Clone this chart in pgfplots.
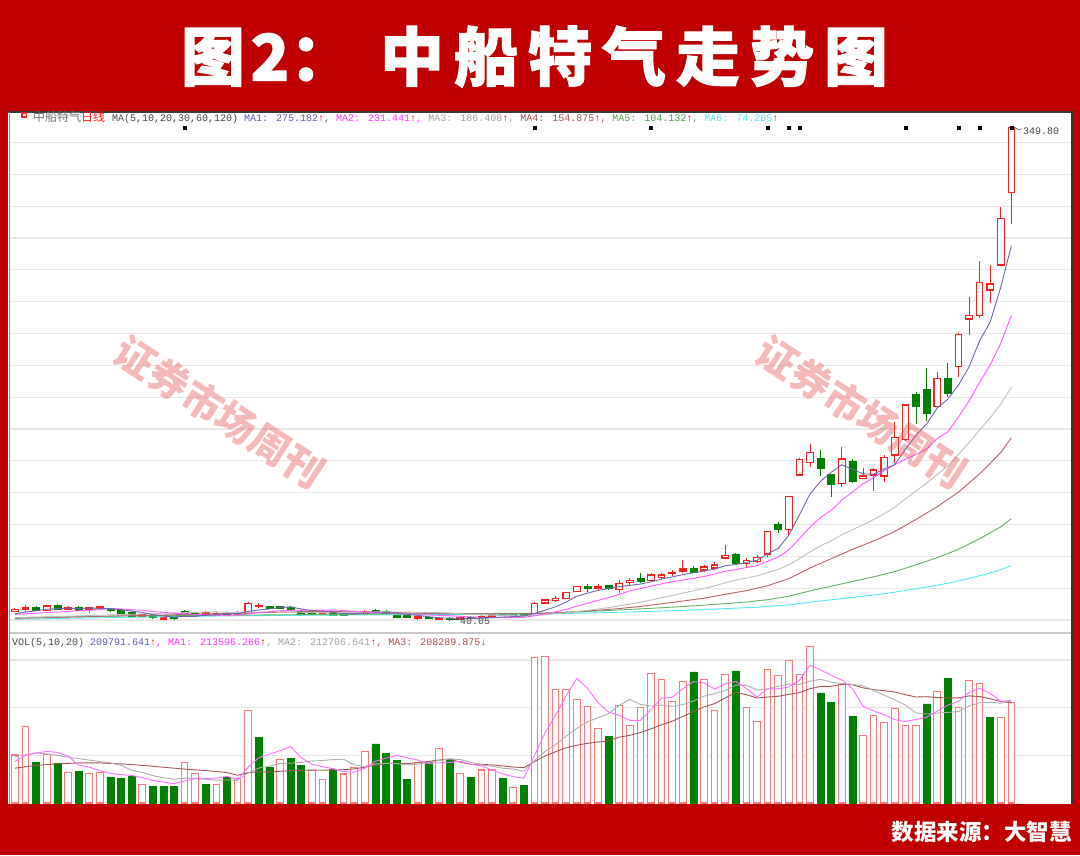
\documentclass[border=0pt]{standalone}
\usepackage{pgfplots}
\pgfplotsset{compat=1.18}
\usepackage{pgfplotstable}
\usepackage{fontspec}
\newfontfamily\cjk{Noto Sans CJK SC}
\newfontfamily\titlefont[FakeBold=1.6]{Noto Sans CJK SC}
\newfontfamily\mono{Liberation Mono}
\definecolor{bgred}{RGB}{192,0,0}
\definecolor{cred}{RGB}{255,30,30}
\definecolor{cgreen}{RGB}{0,128,0}
\definecolor{vred}{RGB}{255,120,120}
\definecolor{maA}{RGB}{105,105,175}
\definecolor{maB}{RGB}{255,90,255}
\definecolor{maC}{RGB}{190,190,190}
\definecolor{maD}{RGB}{180,100,100}
\definecolor{maE}{RGB}{100,175,100}
\definecolor{maF}{RGB}{80,235,245}
\definecolor{gridc}{RGB}{232,232,232}
\definecolor{hdark}{RGB}{70,70,70}
\definecolor{hgray}{RGB}{110,110,110}
\definecolor{tA}{RGB}{90,90,170}
\definecolor{tB}{RGB}{255,50,255}
\definecolor{tC}{RGB}{160,160,160}
\definecolor{tD}{RGB}{170,80,80}
\definecolor{tE}{RGB}{80,160,80}
\definecolor{tF}{RGB}{80,225,240}
\definecolor{arr}{RGB}{255,0,0}
\definecolor{vmaB}{RGB}{255,110,255}
\definecolor{vmaC}{RGB}{175,175,175}
\definecolor{vmaD}{RGB}{165,85,85}
\definecolor{wm}{RGB}{228,70,70}

\pgfplotstableread{
i o h l c
0 45.21 47.23 44.71 46.47
1 46.91 49.42 45.21 47.73
3 45.84 49.42 45.34 48.80
5 46.91 48.48 46.28 47.73
7 46.91 48.17 44.59 47.73
8 47.10 48.80 46.60 48.17
12 42.32 44.08 41.88 43.14
14 40.63 41.88 40.13 41.45
18 43.77 45.34 43.14 44.71
19 43.14 44.71 42.51 44.08
21 43.77 45.34 43.14 44.71
22 44.21 51.00 43.77 50.49
23 48.36 50.37 47.54 49.11
29 44.40 45.97 43.77 45.34
32 43.77 45.34 43.14 44.71
33 44.40 45.97 43.77 45.34
38 41.07 43.14 40.31 41.88
40 40.31 41.88 40.13 41.07
42 40.63 41.88 40.31 41.26
44 41.57 42.83 41.26 42.20
45 42.51 43.77 42.20 43.30
49 44.21 51.00 43.46 50.49
50 50.68 53.19 50.05 52.57
51 52.13 54.77 51.62 53.63
52 53.63 57.59 53.19 57.15
53 57.78 61.36 57.28 60.92
55 60.11 62.62 58.85 61.05
57 59.29 65.13 57.15 63.06
58 63.56 66.39 62.30 64.82
60 64.82 69.22 64.19 68.27
61 66.70 69.53 66.07 68.27
62 69.22 71.42 67.65 69.84
63 70.79 77.70 69.84 72.04
65 71.42 74.56 70.16 73.30
66 72.67 76.44 71.42 74.56
67 78.95 87.12 78.33 80.53
69 75.62 78.77 73.49 77.26
70 76.63 80.84 75.62 79.39
71 81.47 95.92 79.77 95.48
73 96.99 117.91 93.41 117.47
74 131.10 141.47 130.47 140.97
75 139.08 150.58 135.94 145.11
78 125.89 148.88 123.75 141.16
80 128.78 135.31 128.28 130.47
81 131.10 135.31 121.24 134.25
82 130.47 143.67 126.89 141.97
83 143.67 164.59 138.45 154.79
84 153.53 175.71 152.47 175.08
87 174.02 196.01 173.20 191.86
89 199.15 220.01 192.86 219.50
90 229.12 243.13 219.06 231.19
91 231.19 265.75 229.56 252.17
92 247.34 263.05 239.36 251.11
93 263.05 299.30 262.42 292.39
94 308.47 349.80 288.81 349.20
}\redc

\pgfplotstableread{
i o h l c
2 47.73 48.48 45.65 46.09
4 49.42 50.05 46.28 46.91
6 47.73 48.48 45.65 46.28
9 47.35 47.85 45.34 45.84
10 46.09 46.60 43.77 44.40
11 44.84 45.34 41.57 42.07
13 42.70 43.14 40.94 41.45
15 41.88 42.20 40.31 41.07
16 45.34 45.97 43.77 44.40
17 44.08 44.71 42.51 43.14
20 44.08 44.71 42.51 43.14
24 48.48 48.80 46.91 47.23
25 48.48 48.80 46.91 47.23
26 48.17 48.48 46.28 46.91
27 45.65 46.28 43.46 44.08
28 45.34 45.97 43.46 44.08
30 44.08 44.71 42.51 43.14
31 44.08 44.71 42.20 42.83
34 45.97 46.60 44.40 45.03
35 45.34 45.97 43.77 44.40
36 42.83 43.46 40.94 41.57
37 42.83 43.46 40.94 41.57
39 41.88 42.51 40.63 40.94
41 40.94 41.57 40.05 40.31
43 41.88 42.20 40.63 40.94
46 43.46 43.77 42.51 42.83
47 43.30 43.62 42.51 42.83
48 43.30 43.62 42.51 42.83
54 61.05 62.93 57.78 60.11
56 61.80 62.30 59.16 59.67
59 66.07 69.53 63.25 64.19
64 72.36 73.93 69.53 70.16
68 81.47 81.78 75.18 75.62
72 100.32 101.76 94.47 96.99
76 141.35 146.81 130.47 135.50
77 131.29 132.04 117.47 125.01
79 139.90 140.97 126.39 126.89
85 181.99 183.25 163.15 174.46
86 184.95 198.14 165.22 169.87
88 191.86 201.66 180.11 182.44
}\greenc

\pgfplotstableread{
i v
0 10.06
1 16.1
3 10.1
5 6.36
7 6.2
8 6.36
12 3.91
16 8.52
17 6.22
19 3.91
21 5.17
22 19.35
25 9.15
28 6.78
29 4.96
31 6.08
32 7.41
33 10.76
38 8.45
40 11.46
42 6.22
44 6.92
45 6.92
47 3.28
49 30.5
50 30.8
51 23.8
52 23.8
53 21.7
54 20.2
55 15.7
57 20.5
58 16.3
59 20.1
60 27.2
61 25.9
62 21.2
63 25.4
65 25.9
66 19.3
67 27.0
69 20.1
70 17.0
71 28.0
72 26.8
73 29.8
74 27.0
75 32.8
78 24.9
80 14.1
81 18.4
82 16.9
83 19.8
84 16.2
85 16.2
87 23.3
89 20.1
90 25.6
91 25.1
93 17.9
94 20.98
}\vredt

\pgfplotstableread{
i v
2 8.45
4 8.3
6 6.57
9 5.5
10 5.17
11 5.66
13 3.56
14 3.56
15 3.56
18 3.91
20 5.38
23 13.7
24 7.48
26 9.36
27 7.83
30 7.13
34 12.37
35 10.4
36 8.87
37 4.96
39 8.45
41 9.15
43 5.31
46 5.17
48 3.7
56 13.9
64 27.5
68 27.7
76 23.1
77 21.1
79 18.1
86 20.8
88 26.1
92 17.9
}\vgreent

\pgfplotsset{
  cpanel/.style={
    at={(10pt,222pt)}, anchor=south west, scale only axis,
    width=1061pt, height=521pt,
    xmin=-0.4717, xmax=99.62, ymin=31.83, ymax=359.18,
    axis line style={draw=none}, major tick length=0pt,
    xtick=\empty, ytick=\empty,
  },
  vpanel/.style={
    at={(10pt,52pt)}, anchor=south west, scale only axis,
    width=1061pt, height=170pt,
    xmin=-0.4717, xmax=99.62, ymin=0, ymax=35.64,
    axis line style={draw=none}, major tick length=0pt,
    xtick=\empty, ytick=\empty,
  },
}

\begin{document}
\begin{tikzpicture}[x=1pt,y=1pt]
\useasboundingbox (0,0) rectangle (1080,855);
\fill[bgred] (0,0) rectangle (1080,855);
\fill[white] (8,51) rectangle (1073,743.5);

% ---------- candle panel: grid and wicks
\begin{axis}[cpanel, ytick={40,60,...,340}, yticklabels={}, ymajorgrids,
  grid style={draw=gridc, line width=1.2pt}]
\addplot[mark=none, draw=none, error bars/.cd, y dir=both, y explicit, error mark=none,
  error bar style={draw=cred, line width=1pt, solid}]
  table[x=i, y=c, y error plus expr=\thisrow{h}-\thisrow{c}, y error minus expr=\thisrow{c}-\thisrow{l}] {\redc};
\addplot[mark=none, draw=none, error bars/.cd, y dir=both, y explicit, error mark=none,
  error bar style={draw=cgreen, line width=1pt, solid}]
  table[x=i, y=c, y error plus expr=\thisrow{h}-\thisrow{c}, y error minus expr=\thisrow{c}-\thisrow{l}] {\greenc};
\end{axis}

% ---------- red bodies
\begin{axis}[cpanel, ybar stacked, bar width=6.5pt]
\addplot[draw=none, fill=none] table[x=i, y=o] {\redc};
\addplot[draw=cred, fill=white, line width=1.1pt] table[x=i, y expr=\thisrow{c}-\thisrow{o}] {\redc};
\end{axis}

% ---------- green bodies
\begin{axis}[cpanel, ybar stacked, bar width=7pt]
\addplot[draw=none, fill=none] table[x=i, y=c] {\greenc};
\addplot[draw=cgreen, fill=cgreen, line width=0.5pt] table[x=i, y expr=\thisrow{o}-\thisrow{c}] {\greenc};
\end{axis}

% ---------- moving averages
\begin{axis}[cpanel]
\addplot[maF, line width=0.9pt, mark=none] coordinates {(0,40.5)(10,41.6)(20,42.6)(30,43.1)(40,43.4)(48,43.75)(52,44.10)(55,44.54)(58,45.03)(61,45.63)(64,46.32)(67,47.15)(70,48.01)(73,49.52)(76,51.95)(79,54.15)(82,56.47)(85,59.60)(88,63.06)(90,66.09)(92,69.57)(93,71.65)(94,74.20)};
\addplot[maE, line width=0.9pt, mark=none] coordinates {(0,41.5)(10,42.5)(20,43.0)(30,43.5)(40,44.0)(49,44.2)(52,44.8)(55,45.66)(57,46.3)(59,46.99)(61,47.69)(63,48.47)(65,49.29)(67,50.30)(69,51.29)(71,52.76)(73,54.92)(75,58.32)(77,61.20)(79,64.19)(81,67.13)(83,70.42)(85,74.67)(87,79.19)(89,84.40)(91,91.02)(93,98.57)(94,103.64)};
\addplot[maD, line width=0.9pt, mark=none] coordinates {(0,41.0)(5,41.8)(10,42.6)(15,43.3)(20,44.1)(25,44.9)(29,45.47)(31,45.19)(33,45.03)(35,44.86)(37,44.49)(39,44.12)(41,43.95)(43,43.87)(45,43.95)(47,43.86)(49,44.01)(51,44.61)(53,45.23)(55,46.12)(57,47.18)(59,48.50)(61,50.18)(63,51.91)(65,53.71)(67,56.11)(69,58.45)(71,61.56)(73,65.97)(75,72.68)(77,78.53)(79,84.37)(81,89.65)(83,95.61)(85,103.22)(87,111.19)(89,120.29)(91,131.85)(93,145.23)(94,154.53)};
\addplot[maC, line width=0.9pt, mark=none] coordinates {(0,41.5)(3,42.0)(6,42.6)(9,43.2)(12,43.8)(15,44.4)(18,45.0)(19,45.09)(20,44.92)(21,44.77)(22,44.99)(23,45.00)(24,45.02)(25,44.99)(26,45.03)(27,44.84)(28,44.64)(29,44.62)(30,44.55)(31,44.59)(32,44.67)(33,44.86)(34,45.04)(35,45.21)(36,45.07)(37,44.99)(38,44.85)(39,44.69)(40,44.59)(41,44.36)(42,43.91)(43,43.50)(44,43.25)(45,43.01)(46,42.79)(47,42.71)(48,42.63)(49,42.89)(50,43.36)(51,43.90)(52,44.52)(53,45.30)(54,46.06)(55,46.89)(56,47.79)(57,48.87)(58,50.02)(59,51.18)(60,52.54)(61,53.93)(62,55.36)(63,56.92)(64,58.32)(65,59.86)(66,61.46)(67,63.36)(68,65.02)(69,66.36)(70,67.70)(71,69.79)(72,71.78)(73,74.61)(74,78.65)(75,82.85)(76,86.65)(77,89.74)(78,93.56)(79,96.70)(80,99.81)(81,103.11)(82,106.71)(83,110.85)(84,116.09)(85,121.15)(86,125.92)(87,131.48)(88,136.83)(89,143.94)(90,151.53)(91,159.36)(92,167.07)(93,175.81)(94,186.22)};
\addplot[maB, line width=0.9pt, mark=none] coordinates {(0,43.5)(2,44.3)(4,45.0)(6,45.8)(8,46.5)(9,47.18)(10,46.97)(11,46.40)(12,46.11)(13,45.37)(14,44.83)(15,44.16)(16,43.97)(17,43.51)(18,43.17)(19,42.99)(20,42.87)(21,43.13)(22,43.87)(23,44.63)(24,45.21)(25,45.82)(26,46.08)(27,46.17)(28,46.11)(29,46.24)(30,46.23)(31,46.04)(32,45.47)(33,45.09)(34,44.87)(35,44.59)(36,44.05)(37,43.80)(38,43.58)(39,43.14)(40,42.94)(41,42.68)(42,42.34)(43,41.90)(44,41.62)(45,41.43)(46,41.52)(47,41.61)(48,41.68)(49,42.64)(50,43.78)(51,45.11)(52,46.70)(53,48.70)(54,50.50)(55,52.35)(56,54.06)(57,56.12)(58,58.35)(59,59.72)(60,61.29)(61,62.75)(62,64.02)(63,65.13)(64,66.14)(65,67.36)(66,68.85)(67,70.60)(68,71.68)(69,72.99)(70,74.10)(71,76.82)(72,79.54)(73,84.08)(74,91.16)(75,98.34)(76,104.44)(77,108.88)(78,115.44)(79,120.40)(80,125.51)(81,129.39)(82,133.88)(83,137.61)(84,141.02)(85,143.96)(86,147.40)(87,154.08)(88,158.21)(89,167.47)(90,177.54)(91,189.33)(92,200.25)(93,214.01)(94,231.42)};
\addplot[maA, line width=0.9pt, mark=none] coordinates {(0,44.0)(1,45.0)(2,45.8)(3,46.8)(4,47.20)(5,47.45)(6,47.16)(7,47.49)(8,47.36)(9,47.15)(10,46.48)(11,45.64)(12,44.72)(13,43.38)(14,42.50)(15,41.84)(16,42.30)(17,42.30)(18,42.95)(19,43.48)(20,43.89)(21,43.96)(22,45.43)(23,46.31)(24,46.94)(25,47.75)(26,48.19)(27,46.91)(28,45.91)(29,45.53)(30,44.71)(31,43.89)(32,44.02)(33,44.27)(34,44.21)(35,44.46)(36,44.21)(37,43.58)(38,42.89)(39,42.07)(40,41.41)(41,41.15)(42,41.09)(43,40.90)(44,41.16)(45,41.44)(46,41.88)(47,42.13)(48,42.45)(49,44.11)(50,46.12)(51,48.34)(52,51.27)(53,54.95)(54,56.88)(55,58.57)(56,59.78)(57,60.96)(58,61.74)(59,62.56)(60,64.00)(61,65.72)(62,67.08)(63,68.52)(64,69.72)(65,70.72)(66,71.98)(67,74.12)(68,74.83)(69,76.25)(70,77.47)(71,81.66)(72,84.95)(73,93.32)(74,106.06)(75,119.20)(76,127.21)(77,132.81)(78,137.55)(79,134.73)(80,131.81)(81,131.56)(82,134.95)(83,137.67)(84,147.31)(85,156.11)(86,163.23)(87,173.21)(88,178.74)(89,187.63)(90,198.97)(91,215.43)(92,227.28)(93,249.27)(94,275.21)};
\addplot[only marks, mark=square*, mark size=1.4pt, black] coordinates {(16,349.4)(49,349.4)(60,349.4)(71,349.4)(73,349.4)(74,349.4)(84,349.4)(89,349.4)(91,349.4)(94,349.4)};
\end{axis}

% ---------- volume panel
\begin{axis}[vpanel, ytick={10,20,30}, yticklabels={}, ymajorgrids,
  grid style={draw=gridc, line width=1.2pt}]
\addplot[ybar, bar width=6.6pt, bar shift=0pt, draw=vred, fill=white, line width=1.1pt] table[x=i, y=v] {\vredt};
\addplot[ybar, bar width=7pt, bar shift=0pt, draw=cgreen, fill=cgreen, line width=0.5pt] table[x=i, y=v] {\vgreent};
\addplot[vmaD, line width=0.9pt, mark=none] coordinates {(0,7.3)(2,7.9)(4,8.2)(6,8.4)(8,8.4)(10,8.2)(12,7.9)(14,7.5)(16,7.1)(18,6.8)(19,6.60)(20,6.37)(21,5.82)(22,6.36)(23,6.55)(24,6.51)(25,6.65)(26,6.78)(27,6.86)(28,6.89)(29,6.86)(30,6.96)(31,6.98)(32,7.15)(33,7.51)(34,7.95)(35,8.30)(36,8.31)(37,8.25)(38,8.48)(39,8.71)(40,9.01)(41,9.21)(42,8.55)(43,8.13)(44,8.10)(45,7.99)(46,7.78)(47,7.55)(48,7.40)(49,8.68)(50,9.86)(51,10.75)(52,11.57)(53,12.11)(54,12.51)(55,12.77)(56,13.02)(57,13.80)(58,14.19)(59,14.77)(60,15.56)(61,16.40)(62,17.15)(63,18.15)(64,19.18)(65,20.13)(66,20.84)(67,22.02)(68,23.22)(69,22.70)(70,22.01)(71,22.22)(72,22.37)(73,22.78)(74,23.12)(75,23.97)(76,24.43)(77,24.46)(78,24.89)(79,24.79)(80,24.14)(81,23.76)(82,23.55)(83,23.27)(84,22.70)(85,22.22)(86,22.29)(87,22.11)(88,22.03)(89,22.03)(90,22.46)(91,22.31)(92,21.87)(93,21.27)(94,20.97)};
\addplot[vmaC, line width=0.9pt, mark=none] coordinates {(0,9.7)(1,10.1)(2,10.5)(3,10.3)(4,10.0)(5,9.6)(6,9.3)(7,9.0)(8,8.7)(9,8.40)(10,7.91)(11,6.87)(12,6.41)(13,5.76)(14,5.29)(15,5.01)(16,5.20)(17,5.20)(18,4.96)(19,4.80)(20,4.82)(21,4.77)(22,6.31)(23,7.33)(24,7.72)(25,8.28)(26,8.36)(27,8.52)(28,8.81)(29,8.92)(30,9.09)(31,9.18)(32,7.99)(33,7.69)(34,8.18)(35,8.31)(36,8.26)(37,7.97)(38,8.14)(39,8.49)(40,8.92)(41,9.23)(42,9.11)(43,8.56)(44,8.02)(45,7.67)(46,7.30)(47,7.13)(48,6.66)(49,8.86)(50,10.80)(51,12.26)(52,14.02)(53,15.66)(54,16.99)(55,17.87)(56,18.74)(57,20.46)(58,21.72)(59,20.68)(60,20.32)(61,20.53)(62,20.27)(63,20.64)(64,21.37)(65,22.39)(66,22.93)(67,23.58)(68,24.72)(69,24.72)(70,23.70)(71,23.91)(72,24.47)(73,24.91)(74,24.86)(75,25.55)(76,25.93)(77,25.34)(78,25.06)(79,24.86)(80,24.57)(81,23.61)(82,22.62)(83,21.62)(84,20.54)(85,18.88)(86,18.65)(87,18.87)(88,18.99)(89,19.19)(90,20.34)(91,21.01)(92,21.11)(93,20.92)(94,21.40)};
\addplot[vmaB, line width=0.9pt, mark=none] coordinates {(0,8.7)(1,10.0)(2,10.5)(3,10.8)(4,10.60)(5,9.86)(6,7.96)(7,7.51)(8,6.76)(9,6.20)(10,5.96)(11,5.78)(12,5.32)(13,4.76)(14,4.37)(15,4.05)(16,4.62)(17,5.08)(18,5.15)(19,5.22)(20,5.59)(21,4.92)(22,7.54)(23,9.50)(24,10.22)(25,10.97)(26,11.81)(27,9.50)(28,8.12)(29,7.62)(30,7.21)(31,6.56)(32,6.47)(33,7.27)(34,8.75)(35,9.40)(36,9.96)(37,9.47)(38,9.01)(39,8.23)(40,8.44)(41,8.49)(42,8.75)(43,8.12)(44,7.81)(45,6.90)(46,6.11)(47,5.52)(48,5.20)(49,9.91)(50,14.69)(51,18.42)(52,22.52)(53,26.12)(54,24.06)(55,21.04)(56,19.06)(57,18.40)(58,17.32)(59,17.30)(60,19.60)(61,22.00)(62,22.14)(63,23.96)(64,25.44)(65,25.18)(66,23.86)(67,25.02)(68,25.48)(69,24.00)(70,22.22)(71,23.96)(72,23.92)(73,24.34)(74,25.72)(75,28.88)(76,27.90)(77,26.76)(78,25.78)(79,24.00)(80,20.26)(81,19.32)(82,18.48)(83,17.46)(84,17.08)(85,17.50)(86,17.98)(87,19.26)(88,20.52)(89,21.30)(90,23.18)(91,24.04)(92,22.96)(93,21.32)(94,21.50)};
\end{axis}

% ---------- frame lines
\draw[line width=1.5pt, color={rgb,255:red,60;green,60;blue,60}] (8,743) -- (1073,743);
\draw[line width=2pt, color={rgb,255:red,50;green,50;blue,50}] (1072,743.5) -- (1072,51);
\draw[line width=1pt, color={rgb,255:red,150;green,150;blue,150}] (9.5,743) -- (9.5,51);
\draw[line width=1.5pt, color={rgb,255:red,200;green,200;blue,200}] (10,222) -- (1071,222);

% ---------- panel headers
\draw[cred, line width=1.2pt] (22,738) rectangle (26.5,742);
\node[anchor=base west, inner sep=0pt, font=\cjk\fontsize{12}{12}\selectfont, text=hgray] at (33,733) {中船特气\textcolor{cred}{日线}};
\node[anchor=base west, inner sep=0pt, font=\mono\fontsize{10}{10}\selectfont] at (112,733)
 {{\color{hdark}MA(5,10,20,30,60,120) }{\color{tA}MA1: 275.182}{\color{arr}↑}{\color{tA}, }{\color{tB}MA2: 231.441}{\color{arr}↑}{\color{tB}, }{\color{tC}MA3: 186.408}{\color{arr}↑}{\color{tC}, }{\color{tD}MA4: 154.875}{\color{arr}↑}{\color{tD}, }{\color{tE}MA5: 104.132}{\color{arr}↑}{\color{tE}, }{\color{tF}MA6: 74.205}{\color{arr}↑}};
\node[anchor=base west, inner sep=0pt, font=\mono\fontsize{10}{10}\selectfont] at (12,209.5)
 {{\color{hdark}VOL(5,10,20) }{\color{tA}209791.641}{\color{arr}↑}{\color{tB}, MA1: 213596.266}{\color{arr}↑}{\color{tC}, MA2: 212706.641}{\color{arr}↑}{\color{tD}, MA3: 208289.875}{\color{cgreen}↓}};

% ---------- price labels
\draw[hdark, line width=0.6pt] (1014,728) -- (1018,725.5) -- (1022,726);
\node[anchor=base west, inner sep=0pt, font=\mono\fontsize{10}{10}\selectfont, text=hdark] at (1023,720.5) {349.80};
\draw[hdark, line width=0.6pt] (451,235.7) -- (459,235.7);
\node[anchor=base west, inner sep=0pt, font=\mono\fontsize{10}{10}\selectfont, text=hdark] at (460,230.5) {40.05};

% ---------- watermarks
\node[rotate=-33, text=wm, opacity=0.38, font=\cjk\bfseries\fontsize{40}{40}\selectfont] at (220,443) {证券市场周刊};
\node[rotate=-33, text=wm, opacity=0.38, font=\cjk\bfseries\fontsize{40}{40}\selectfont] at (862,443) {证券市场周刊};

% ---------- title and source
\foreach \ch/\xx in {图/213, 2/270, ：/322, 中/412, 船/486, 特/560, 气/634, 走/708, 势/782, 图/856}
  \node[anchor=base, inner sep=0pt, text=white, font=\titlefont\bfseries\fontsize{64}{64}\selectfont] at (\xx,774.5) {\ch};
\node[anchor=base east, inner sep=0pt, text=white, font=\cjk\bfseries\fontsize{22.5}{22.5}\selectfont] at (1072,15) {数据来源：大智慧};
\end{tikzpicture}
\end{document}
